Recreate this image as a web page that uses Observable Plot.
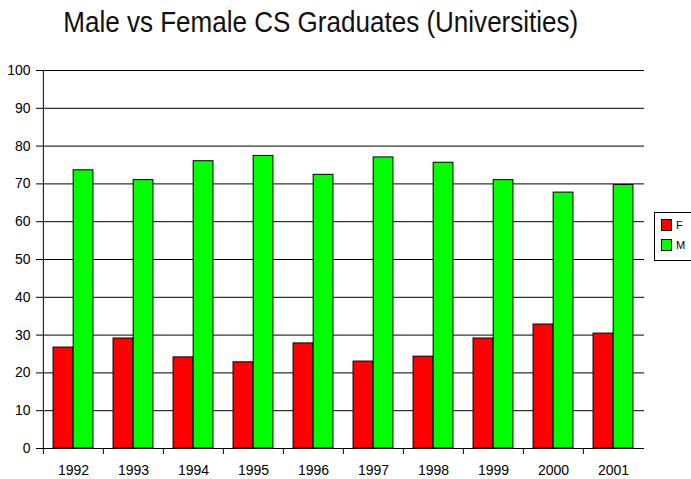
<!DOCTYPE html>
<html>
<head>
<meta charset="utf-8">
<script src="https://cdn.jsdelivr.net/npm/d3@7"></script>
<script src="https://cdn.jsdelivr.net/npm/@observablehq/plot@0.6"></script>
<style>
  html, body { margin: 0; padding: 0; background: #fff; }
  #wrap { position: relative; width: 691px; height: 479px; overflow: hidden; font-family: "Liberation Sans", Arial, sans-serif; }
  #title { position: absolute; left: 0; top: 7px; width: 641px; text-align: center; font-family: "Liberation Sans Narrow", "Liberation Sans", Arial, sans-serif; font-size: 30px; line-height: 30px; color: #111; white-space: nowrap; }
  #title span { display: inline-block; transform-origin: center; }
  #chart { position: absolute; left: 0; top: 50px; }
  #legend { position: absolute; left: 654px; top: 212px; width: 44px; height: 49px; border: 1px solid #000; background: #fff; box-sizing: border-box; }
  .item { position: absolute; left: 6px; height: 12px; font-size: 11px; line-height: 12px; color: #000; }
  .sw { position: absolute; left: 0; top: 0; width: 11px; height: 12px; border: 1px solid #000; box-sizing: border-box; }
  .lab { position: absolute; left: 15px; top: 0; }
</style>
</head>
<body>
<div id="wrap">
  <div id="title"><span id="tt">Male vs Female CS Graduates (Universities)</span></div>
  <div id="chart"></div>
  <div id="legend"></div>
</div>
<script>
const years = ["1992","1993","1994","1995","1996","1997","1998","1999","2000","2001"];
const female = [26.7, 29.1, 24.1, 22.8, 27.8, 23.0, 24.3, 29.1, 32.8, 30.4];
const male   = [73.6, 71.0, 76.0, 77.4, 72.4, 77.0, 75.6, 71.0, 67.7, 69.7];
const series = ["F", "M"];
const colors = ["#ff0000", "#00ff00"];
const yTicks = [0, 10, 20, 30, 40, 50, 60, 70, 80, 90, 100];

const W = 691, H = 429, mL = 41, mR = 47, mT = 20, mB = 31;
const bw = (W - mL - mR) / years.length;

const fData = years.map((y, i) => ({year: y, sex: "F", value: female[i]}));
const mData = years.map((y, i) => ({year: y, sex: "M", value: male[i]}));

const chart = Plot.plot({
  width: W, height: H,
  marginLeft: mL, marginRight: mR, marginTop: mT, marginBottom: mB,
  style: {fontFamily: "'Liberation Sans', Arial, sans-serif", fontSize: "14px", color: "#000", background: "#fff"},
  x: {type: "band", domain: years, padding: 0, axis: null, label: null},
  y: {domain: [0, 100], axis: null, label: null},
  marks: [
    Plot.gridY(yTicks, {stroke: "#000", strokeOpacity: 1, strokeWidth: 1}),
    Plot.barY(fData, {x: "year", y: "value", fill: colors[0], stroke: "#000", strokeWidth: 1, insetLeft: bw / 6, insetRight: bw / 2}),
    Plot.barY(mData, {x: "year", y: "value", fill: colors[1], stroke: "#000", strokeWidth: 1, insetLeft: bw / 2, insetRight: bw / 6}),
    Plot.ruleX([years[0]], {x: d => d, y1: 0, y2: 100, dx: -bw / 2, stroke: "#000"}),
    Plot.axisY(yTicks, {label: null, tickSize: 5, tickPadding: 6, fontSize: 14, fill: "#000", stroke: "#000"}),
    Plot.axisX({label: null, tickSize: 6, tickFormat: () => "", dx: -bw / 2, stroke: "#000"}),
    Plot.axisX({label: null, tickSize: 0, tickPadding: 17, fontSize: 14, fill: "#000"})
  ]
});
document.getElementById("chart").appendChild(chart);

// legend
const leg = document.getElementById("legend");
series.forEach((s, i) => {
  const it = document.createElement("div");
  it.className = "item";
  it.style.top = (6 + i * 20) + "px";
  it.innerHTML = `<div class="sw" style="background:${colors[i]}"></div><div class="lab">${s}</div>`;
  leg.appendChild(it);
});

// fit title width to reference proportions
const tt = document.getElementById("tt");
const w = tt.getBoundingClientRect().width;
if (w > 0) tt.style.transform = `scaleX(${515 / w})`;
</script>
</body>
</html>
